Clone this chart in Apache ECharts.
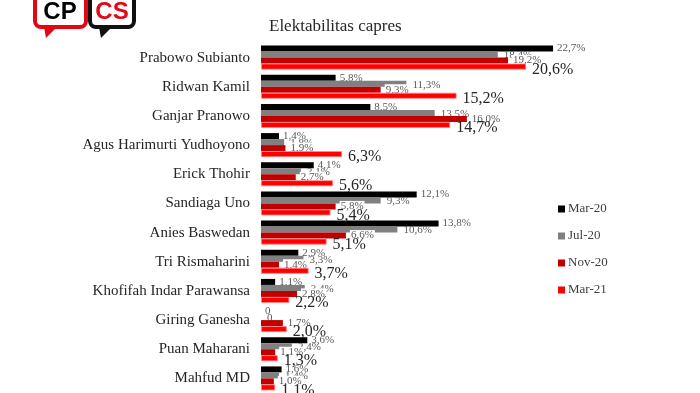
<!DOCTYPE html>
<html>
<head>
<meta charset="utf-8">
<script src="https://cdn.jsdelivr.net/npm/echarts@6/dist/echarts.min.js"></script>
<style>html,body{margin:0;padding:0;background:#fff}#c{width:700px;height:393px}</style>
</head>
<body>
<div id="c"></div>
<script>
var categories = ['Prabowo Subianto','Ridwan Kamil','Ganjar Pranowo','Agus Harimurti Yudhoyono','Erick Thohir','Sandiaga Uno','Anies Baswedan','Tri Rismaharini','Khofifah Indar Parawansa','Giring Ganesha','Puan Maharani','Mahfud MD'];
var seriesNames = ['Mar-20','Jul-20','Nov-20','Mar-21'];
var mar20 = [22.7, 5.8, 8.5, 1.4, 4.1, 12.1, 13.8, 2.9, 1.1, 0, 3.6, 1.6];
var jul20 = [18.4, 11.3, 13.5, 1.8, 3.1, 9.3, 10.6, 3.3, 3.4, 0, 2.4, 1.4];
var nov20 = [19.2, 9.3, 16.0, 1.9, 2.7, 5.8, 6.6, 1.4, 2.8, 1.7, 1.1, 1.0];
var mar21 = [20.6, 15.2, 14.7, 6.3, 5.6, 5.4, 5.1, 3.7, 2.2, 2.0, 1.3, 1.1];

var FONT = '"Liberation Serif", "DejaVu Serif", serif';
function fmt(p){ var v = p.value; if (v === 0) return '0'; return v.toFixed(1).replace('.', ',') + '%'; }

var chart = echarts.init(document.getElementById('c'));
var colors = ['#000000','#808080','#C00000','#FF0000'];
var datas = [mar20, jul20, nov20, mar21];
var series = datas.map(function(d, i){
  var big = (i === 3);
  return {
    name: seriesNames[i],
    type: 'bar',
    data: d,
    barWidth: 6,
    barGap: '0%',
    itemStyle: big ? {color: colors[i], borderColor: '#ff8a8a', borderWidth: 0.8} : {color: colors[i]},
    label: {
      show: true,
      position: 'right',
      distance: big ? 6 : 4,
      offset: big ? [0, 3] : (i === 1 ? [2, 1] : [0, 0]),
      formatter: fmt,
      fontFamily: FONT,
      fontSize: big ? 16 : 11,
      color: big ? '#262626' : '#595959',
      backgroundColor: i === 2 ? '#ffffff' : 'transparent',
      padding: i === 2 ? [0, 1] : 0
    },
    z: 2 + i
  };
});

chart.setOption({
  animation: false,
  title: {
    text: 'Elektabilitas capres',
    left: 264, top: 13,
    textStyle: {fontFamily: FONT, fontSize: 17, fontWeight: 'normal', color: '#262626'}
  },
  legend: {
    data: seriesNames.map(function(n){ return {name: n, itemStyle: {borderWidth: 0}}; }),
    orient: 'vertical',
    left: 553, top: 197,
    itemWidth: 7, itemHeight: 7,
    itemGap: 13,
    icon: 'rect',
    textStyle: {fontFamily: FONT, fontSize: 13, color: '#404040', lineHeight: 14, padding: [0,0,0,-2]}
  },
  grid: {left: 261, top: 43, width: 386, height: 352},
  xAxis: {type: 'value', min: 0, max: 30, show: false},
  yAxis: {
    type: 'category', data: categories, inverse: true,
    axisLine: {show: false}, axisTick: {show: false},
    axisLabel: {fontFamily: FONT, fontSize: 15, color: '#262626', margin: 11}
  },
  series: series,
  graphic: [
    {type: 'rect', shape: {x: 35, y: -6, width: 51, height: 33, r: 6}, style: {fill: '#fff', stroke: '#e30613', lineWidth: 4}},
    {type: 'polygon', shape: {points: [[44, 27], [46, 38], [57, 27]]}, style: {fill: '#e30613'}},
    {type: 'text', style: {x: 60, y: 12, text: 'CP', font: 'bold 24px "Liberation Sans", Arial, sans-serif', fill: '#000', align: 'center', verticalAlign: 'middle'}},
    {type: 'rect', shape: {x: 90, y: -6, width: 44, height: 33, r: 6}, style: {fill: '#fff', stroke: '#111', lineWidth: 4}},
    {type: 'polygon', shape: {points: [[99, 27], [101, 38], [112, 27]]}, style: {fill: '#111'}},
    {type: 'text', style: {x: 112, y: 12, text: 'CS', font: 'bold 24px "Liberation Sans", Arial, sans-serif', fill: '#e30613', align: 'center', verticalAlign: 'middle'}}
  ]
});
</script>
</body>
</html>
